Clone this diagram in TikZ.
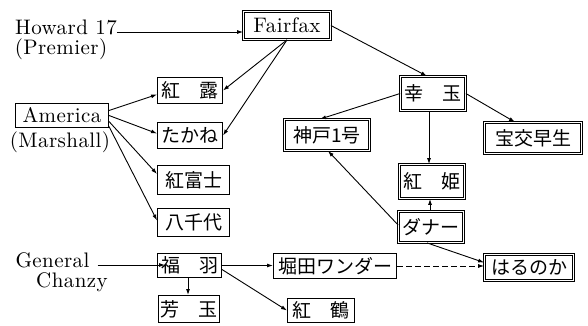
\documentclass[tikz,border=0pt]{standalone}
\usepackage{fontspec}
\newfontfamily\jpfont{Noto Sans CJK JP}
\newfontfamily\latfam{lmroman10-regular}[Extension=.otf, LetterSpace=2]
\newcommand\latinsz{\latfam\fontsize{21}{23}\selectfont}
\usetikzlibrary{arrows.meta}
\begin{document}
\begin{tikzpicture}[x=1pt,y=1pt,
  lat/.style={inner sep=0pt, font=\latinsz},
  sbox/.style={draw, line width=1pt, inner sep=0pt, font=\jpfont\fontsize{19}{19}\selectfont},
  dbox/.style={draw, line width=0.6pt, double, double distance=1.6pt, inner sep=0pt, font=\jpfont\fontsize{19}{19}\selectfont},
  arr/.style={-{Latex[length=6pt,width=4pt]}, line width=0.9pt},
]
\useasboundingbox (0,0) rectangle (588,-326);

% boxes
\node[dbox, font=\latinsz, minimum width=87.2pt, minimum height=28.2pt] (fairfax) at (287,-25.5) {Fairfax};
\node[sbox, font=\latinsz, minimum width=93pt, minimum height=24pt] (america) at (62,-115.5) {America};
\node[sbox, minimum width=65pt, minimum height=26pt] (benirou) at (190,-90.5) {紅　露};
\node[sbox, minimum width=65pt, minimum height=26pt] (takane) at (190,-135.5) {たかね};
\node[sbox, minimum width=72pt, minimum height=29pt] (benifuji) at (193.5,-180) {紅富士};
\node[sbox, minimum width=72pt, minimum height=28pt] (yachiyo) at (193.5,-222.5) {八千代};
\node[dbox, minimum width=65.2pt, minimum height=34.2pt] (kotama) at (433,-93.5) {幸　玉};
\node[dbox, minimum width=85.2pt, minimum height=31.2pt] (kobe) at (327,-135) {神戸1号};
\node[dbox, minimum width=97.2pt, minimum height=31.2pt] (houkou) at (533,-138) {宝交早生};
\node[dbox, minimum width=65.2pt, minimum height=34.2pt] (benihime) at (432,-181.5) {紅　姫};
\node[dbox, minimum width=65.2pt, minimum height=31.2pt] (dana) at (431,-227) {ダナー};
\node[dbox, minimum width=89.2pt, minimum height=26.2pt] (harunoka) at (529,-267.5) {はるのか};
\node[sbox, minimum width=123pt, minimum height=25pt] (horita) at (335,-266) {堀田ワンダー};
\node[sbox, minimum width=64pt, minimum height=24pt] (fukuba) at (189.5,-265.5) {福　羽};
\node[sbox, minimum width=61pt, minimum height=27pt] (houkyoku) at (189,-309) {芳　玉};
\node[sbox, minimum width=67pt, minimum height=24pt] (benizuru) at (321,-310.5) {紅　鶴};

% plain labels
\node[lat] (howard) at (66,-27) {Howard 17};
\node[lat] (premier) at (61,-49) {(Premier)};
\node[lat] (marshall) at (60,-142.5) {(Marshall)};
\node[lat] (general) at (52.5,-260.5) {General};
\node[lat] (chanzy) at (72,-282.5) {Chanzy};

% connectors
\draw[arr] ([yshift=-5pt]howard.east) -- ([yshift=-5pt]howard.east -| fairfax.west);
\draw[arr] (fairfax.south) -- (benirou.east);
\draw[arr] (fairfax.south) -- (takane.east);
\draw[arr] (fairfax.east) -- ([xshift=-6pt]kotama.north);

\draw[arr] ([yshift=5pt]america.east) -- ([yshift=-4pt]benirou.west);
\draw[arr] ([yshift=0pt]america.east) -- ([yshift=2pt]takane.west);
\draw[arr] ([yshift=-6pt]america.east) -- ([yshift=6pt]benifuji.west);
\draw[arr] ([yshift=-11pt]america.east) -- ([yshift=2pt]yachiyo.west);

\draw[arr] (kotama.west) -- ([xshift=-7pt]kobe.north);
\draw[arr] (kotama.east) -- ([xshift=-18pt]houkou.north);
\draw[arr] ([xshift=-4pt]kotama.south) -- ([xshift=-3pt]benihime.north);
\draw[arr] ([xshift=-1pt]dana.north) -- ([xshift=-1pt]dana.north |- benihime.south);
\draw[arr] ([yshift=2pt]dana.west) -- ([xshift=1pt]kobe.south);
\draw[arr] ([xshift=-4pt]dana.south) -- ([yshift=5pt]harunoka.west);

\draw[arr] ([xshift=8pt,yshift=-4.5pt]general.east) -- ([xshift=8pt,yshift=-4.5pt]general.east -| fukuba.west);
\draw[arr] (fukuba.east) -- (fukuba.east -| horita.west);
\draw[arr] ([xshift=-1.5pt]fukuba.south) -- ([xshift=-1.5pt]fukuba.south |- houkyoku.north);
\draw[arr] ([yshift=-4pt]fukuba.east) -- (benizuru.west);
\draw[arr, dash pattern=on 6pt off 3pt] (horita.east) -- (horita.east -| harunoka.west);
\end{tikzpicture}
\end{document}
